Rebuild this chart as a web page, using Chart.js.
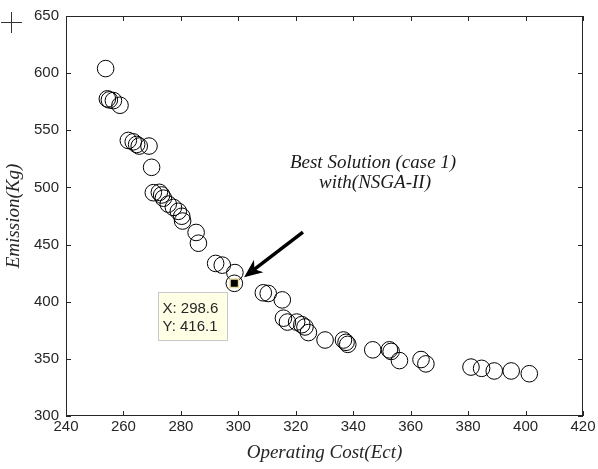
<!DOCTYPE html>
<html>
<head>
<meta charset="utf-8">
<script src="https://cdn.jsdelivr.net/npm/chart.js@4.4.1/dist/chart.umd.min.js"></script>
<style>
  html, body { margin:0; padding:0; background:#fff; }
  #wrap { width:598px; height:469px; }
</style>
</head>
<body>
<div id="wrap"><canvas id="paretoChart" width="598" height="469"></canvas></div>
<script>

// PARETO FRONT DATA
const costValues = [
    253.8, 254.4, 255.1, 256.5, 258.8, 261.7, 263.4, 264.6, 265.5, 268.9,
    269.8, 270.4, 272.5, 273.3, 273.9, 275.6, 277.4, 279.1, 280.3, 280.6,
    285.3, 286.1, 292.1, 294.4, 298.8, 298.6, 308.7, 310.4, 315.3, 315.7,
    317.1, 320.3, 322.1, 323.2, 324.4, 330.2, 336.6, 337.5, 338.1, 346.8,
    352.6, 353.2, 356.1, 363.6, 365.3, 381.0, 384.7, 389.1, 395.0, 401.3
];
const emissionValues = [
    604.0, 577.5, 576.6, 576.0, 571.9, 541.1, 539.9, 537.6, 536.2, 536.2,
    517.6, 495.4, 495.7, 493.4, 490.6, 485.4, 482.5, 479.1, 474.8, 470.6,
    460.6, 451.2, 433.5, 432.0, 425.5, 416.1, 407.8, 407.2, 401.6, 385.6,
    382.2, 382.2, 379.9, 377.9, 373.0, 366.5, 366.5, 364.5, 362.7, 357.9,
    357.9, 356.5, 348.5, 349.4, 345.6, 342.8, 341.7, 339.4, 339.4, 337.0
];

// BEST SOLUTION
const bestCost = [298.6];
const bestEmission = [416.1];

// ANNOTATION (data coordinates)
const arrowFrom = [322.5, 460.9];
const arrowTo = [302.0, 421.5];
const noteLines = ["Best Solution (case 1)", "with(NSGA-II)"];
const noteAt = [[346.9, 521.6], [347.6, 503.6]];

const xTicks = [240, 260, 280, 300, 320, 340, 360, 380, 400, 420];
const yTicks = [300, 350, 400, 450, 500, 550, 600, 650];

const axisColor = "#262626";
const serif = "'Liberation Serif', 'Times New Roman', serif";
const sans = "'Liberation Sans', Arial, sans-serif";


// INWARD TICKS, BOX, ARROW, DATATIP
const matlabLook = {
    id: "matlabLook",
    afterDatasetsDraw(chart){

        const ctx = chart.ctx;
        const a = chart.chartArea;
        const xs = chart.scales.x;
        const ys = chart.scales.y;

        ctx.save();

        // box
        ctx.strokeStyle = axisColor;
        ctx.lineWidth = 1;
        ctx.strokeRect(a.left + 0.5, a.top + 0.5, a.right - a.left - 1, a.bottom - a.top - 1);

        // ticks on all four sides
        ctx.beginPath();
        xTicks.forEach(v => {
            const px = Math.round(xs.getPixelForValue(v)) + 0.5;
            ctx.moveTo(px, a.bottom); ctx.lineTo(px, a.bottom - 5);
            ctx.moveTo(px, a.top); ctx.lineTo(px, a.top + 5);
        });
        yTicks.forEach(v => {
            const py = Math.round(ys.getPixelForValue(v)) + 0.5;
            ctx.moveTo(a.left, py); ctx.lineTo(a.left + 5, py);
            ctx.moveTo(a.right, py); ctx.lineTo(a.right - 5, py);
        });
        ctx.stroke();

        // arrow
        const x1 = xs.getPixelForValue(arrowFrom[0]), y1 = ys.getPixelForValue(arrowFrom[1]);
        const x2 = xs.getPixelForValue(arrowTo[0]), y2 = ys.getPixelForValue(arrowTo[1]);
        const ang = Math.atan2(y2 - y1, x2 - x1);
        ctx.strokeStyle = "#000";
        ctx.fillStyle = "#000";
        ctx.lineWidth = 3.5;
        ctx.beginPath();
        ctx.moveTo(x1, y1);
        ctx.lineTo(x2 - 12 * Math.cos(ang), y2 - 12 * Math.sin(ang));
        ctx.stroke();
        ctx.beginPath();
        ctx.moveTo(x2, y2);
        ctx.lineTo(x2 - 20 * Math.cos(ang - 0.4), y2 - 20 * Math.sin(ang - 0.4));
        ctx.lineTo(x2 - 13 * Math.cos(ang), y2 - 13 * Math.sin(ang));
        ctx.lineTo(x2 - 20 * Math.cos(ang + 0.4), y2 - 20 * Math.sin(ang + 0.4));
        ctx.closePath();
        ctx.fill();

        // annotation text
        ctx.font = "italic 19px " + serif;
        ctx.fillStyle = "#1a1a1a";
        ctx.textAlign = "center";
        ctx.textBaseline = "middle";
        noteLines.forEach((t, i) => {
            ctx.fillText(t, xs.getPixelForValue(noteAt[i][0]), ys.getPixelForValue(noteAt[i][1]));
        });

        // datatip
        const bx = xs.getPixelForValue(bestCost[0]);
        const by = ys.getPixelForValue(bestEmission[0]);
        const left = Math.round(bx - 76) + 0.5, top = Math.round(by + 9) + 0.5;
        ctx.fillStyle = "#ffffe6";
        ctx.strokeStyle = "#c8c8c8";
        ctx.lineWidth = 1;
        ctx.fillRect(left, top, 69, 48);
        ctx.strokeRect(left, top, 69, 48);
        ctx.fillStyle = "#262626";
        ctx.font = "15px " + sans;
        ctx.textAlign = "left";
        ctx.fillText("X: " + bestCost[0].toFixed(1), left + 4, top + 16);
        ctx.fillText("Y: " + bestEmission[0].toFixed(1), left + 4, top + 34);

        ctx.restore();

    },
    afterDraw(chart){

        // cursor cross in the corner
        const ctx = chart.ctx;
        ctx.save();
        ctx.strokeStyle = "#333";
        ctx.lineWidth = 1;
        ctx.beginPath();
        ctx.moveTo(1, 22.5); ctx.lineTo(22, 22.5);
        ctx.moveTo(11.5, 12); ctx.lineTo(11.5, 33);
        ctx.stroke();
        ctx.restore();

    }
};


// BUILD CHART
document.addEventListener("DOMContentLoaded", () => {

    const points = costValues.map((c, i) => ({x: c, y: emissionValues[i]}));
    const best = bestCost.map((c, i) => ({x: c, y: bestEmission[i]}));

    new Chart(document.getElementById("paretoChart"), {
        type: "scatter",
        data: {
            datasets: [
                {
                    label: "Best",
                    data: best,
                    pointStyle: "rect",
                    pointRadius: 6,
                    backgroundColor: "#000",
                    borderColor: "#e8dca0",
                    borderWidth: 1.5
                },
                {
                    label: "Pareto front",
                    data: points,
                    pointStyle: "circle",
                    pointRadius: 8.3,
                    backgroundColor: "rgba(0,0,0,0)",
                    borderColor: "#000",
                    borderWidth: 1
                }
            ]
        },
        options: {
            responsive: false,
            animation: false,
            layout: { padding: { top: 7, right: 15, left: 0, bottom: 0 } },
            plugins: {
                legend: { display: false },
                tooltip: { enabled: false }
            },
            scales: {
                x: {
                    type: "linear",
                    min: 240, max: 420,
                    afterBuildTicks: s => { s.ticks = xTicks.map(v => ({value: v})); },
                    afterFit: s => { s.height = 53; },
                    grid: { display: false, drawTicks: false },
                    border: { display: false },
                    ticks: {
                        padding: 2,
                        color: axisColor,
                        font: { family: sans, size: 15 }
                    },
                    title: {
                        display: true,
                        text: "Operating Cost(Ect)",
                        color: "#262626",
                        padding: { top: 0, bottom: 5 },
                        font: { family: serif, size: 19, style: "italic" }
                    }
                },
                y: {
                    type: "linear",
                    min: 300, max: 650,
                    afterBuildTicks: s => { s.ticks = yTicks.map(v => ({value: v})); },
                    afterFit: s => { s.width = 66; },
                    grid: { display: false, drawTicks: false },
                    border: { display: false },
                    ticks: {
                        padding: 7,
                        color: axisColor,
                        font: { family: sans, size: 15 }
                    },
                    title: {
                        display: true,
                        text: "Emission(Kg)",
                        color: "#262626",
                        padding: { top: 3, bottom: 0 },
                        font: { family: serif, size: 19, style: "italic" }
                    }
                }
            }
        },
        plugins: [matlabLook]
    });

});
</script>
</body>
</html>
